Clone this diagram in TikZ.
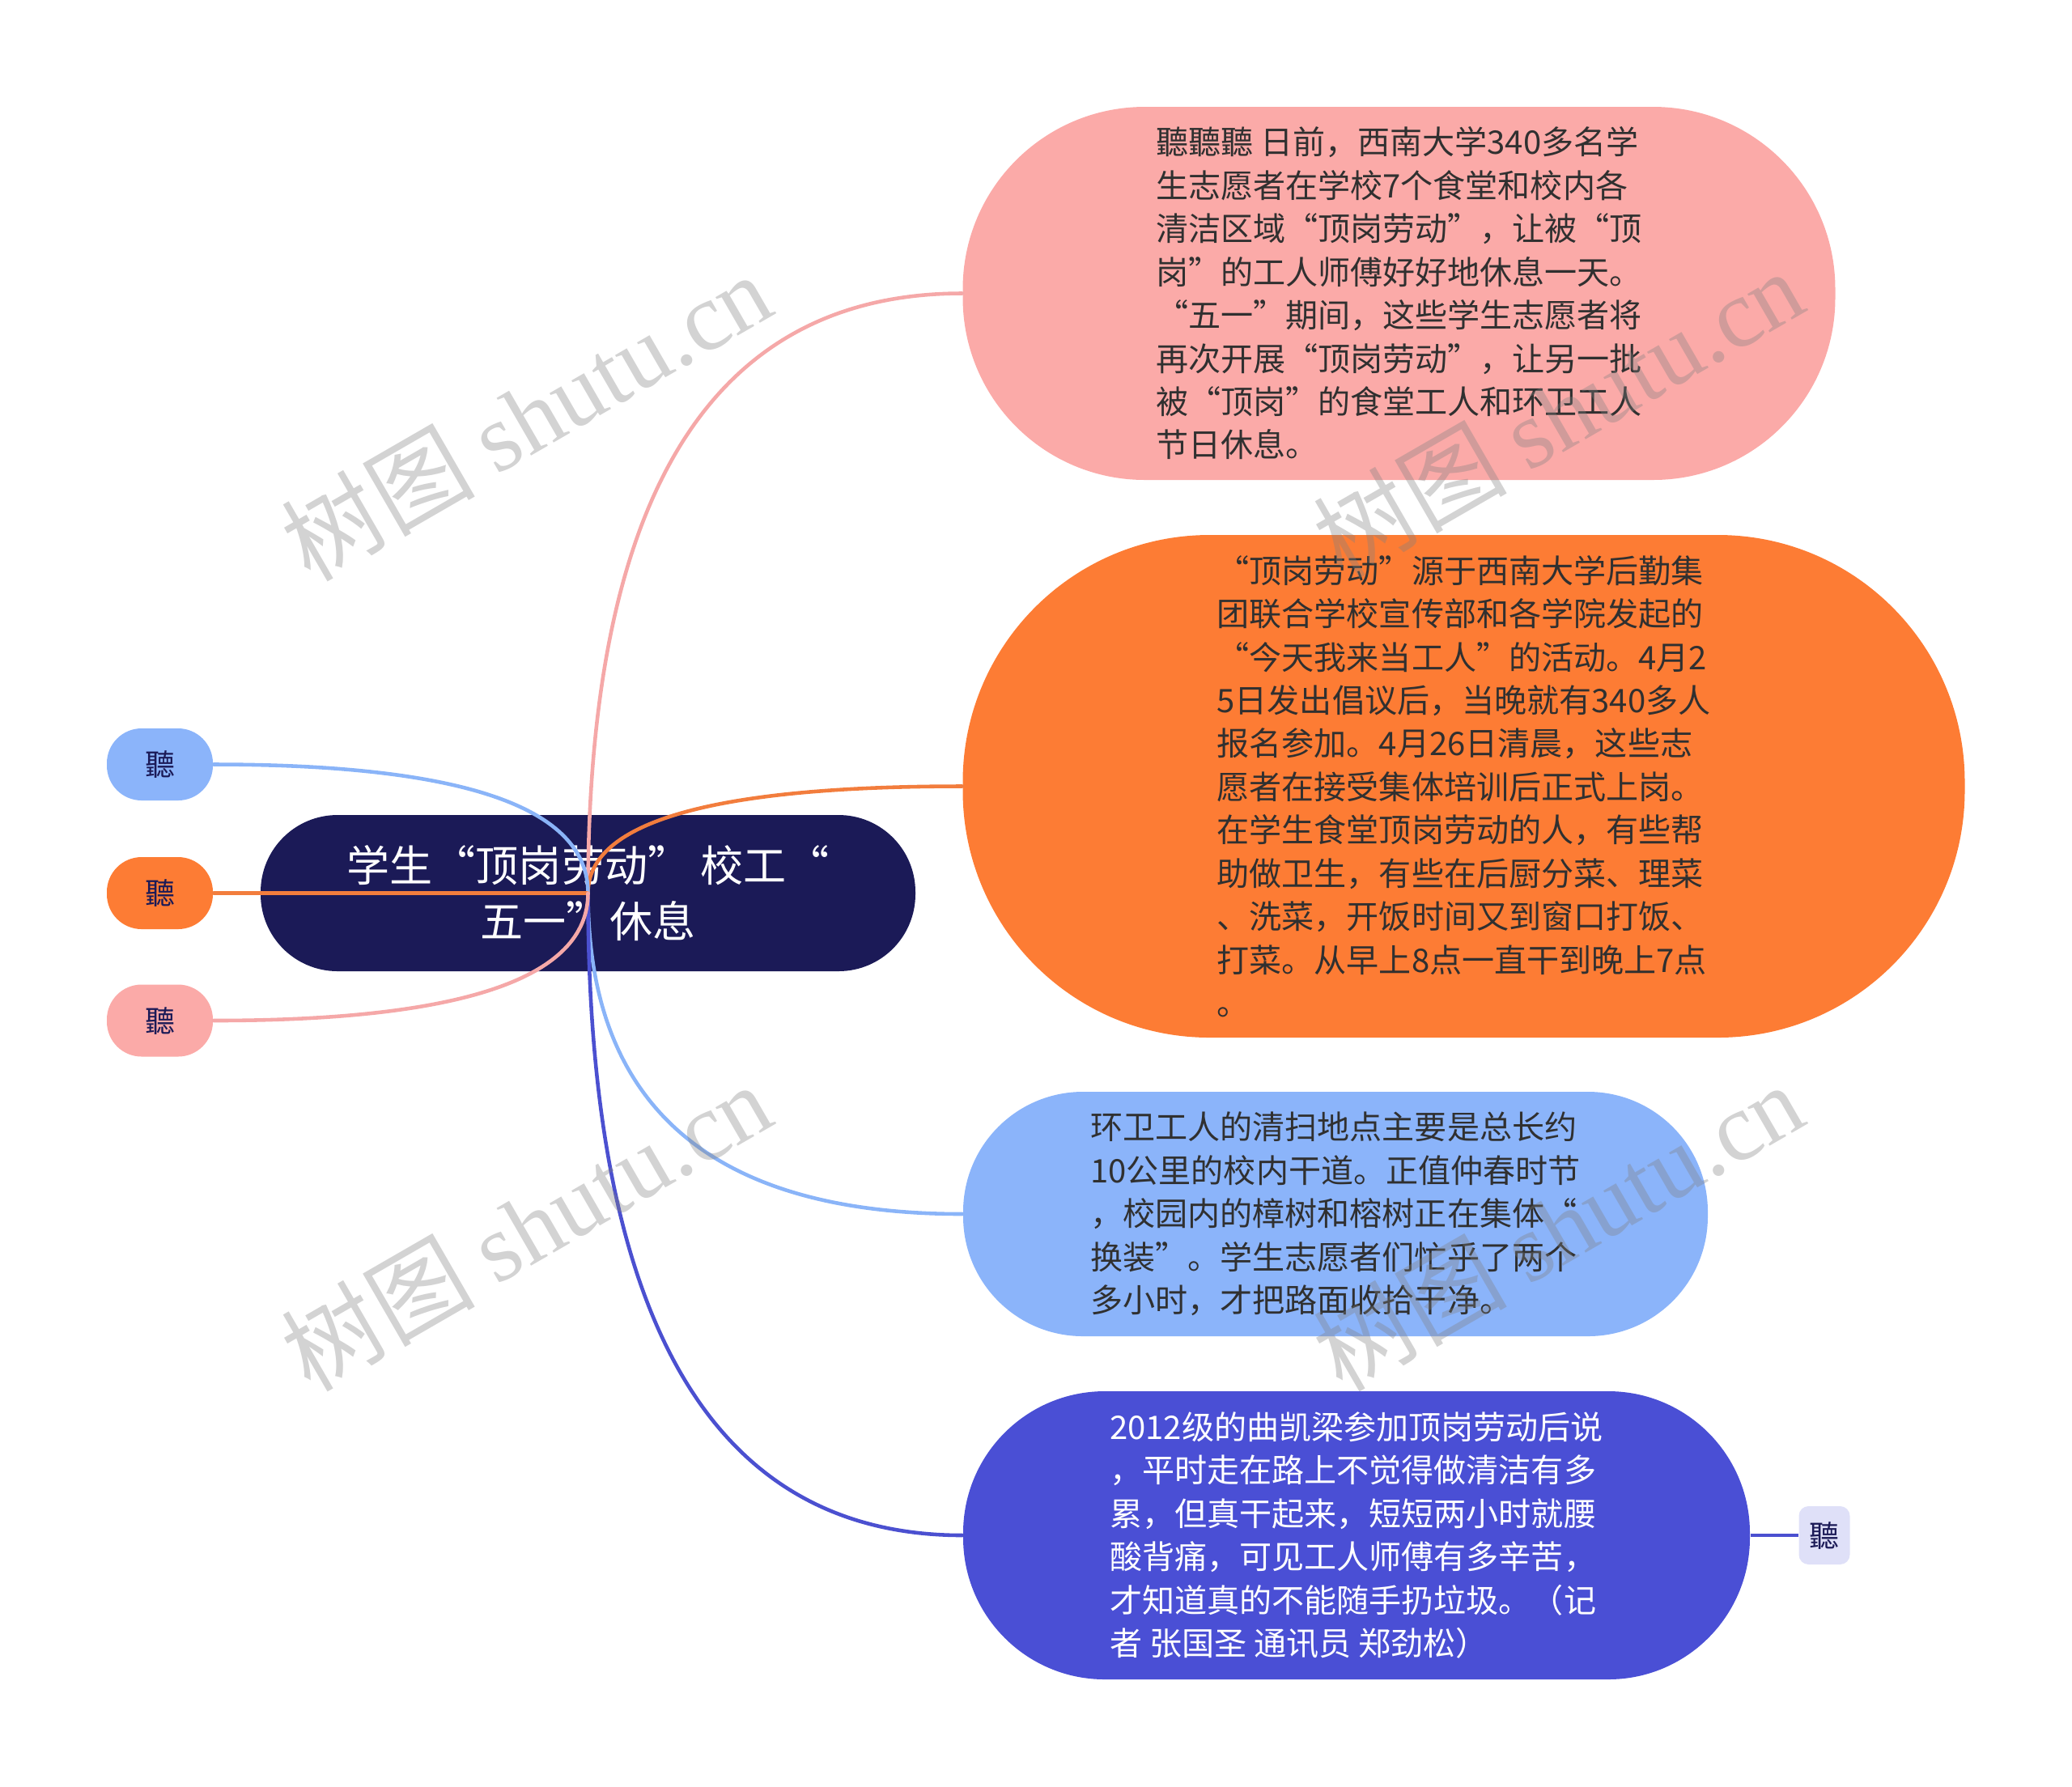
\documentclass[tikz,border=0pt]{standalone}
\usepackage{fontspec}
\setmainfont{Noto Sans CJK SC}
\newfontfamily\wmfont{Liberation Serif}
\usepackage{tikz}
\usetikzlibrary{positioning,calc}

\definecolor{rootc}{HTML}{1B1A57}
\definecolor{pinkc}{HTML}{FBAAA8}
\definecolor{orangec}{HTML}{FD7C34}
\definecolor{bluec}{HTML}{8BB4FA}
\definecolor{indigoc}{HTML}{4A4FD5}
\definecolor{lavc}{HTML}{DFE0F8}
\definecolor{pinkl}{HTML}{F5A8A8}
\definecolor{orangel}{HTML}{F27D3D}
\definecolor{bluel}{HTML}{8AB4F8}
\definecolor{indigol}{HTML}{4B50D0}
\definecolor{txt}{HTML}{303030}

\begin{document}
\begin{tikzpicture}[on grid,
  box/.style={rectangle,align=left,inner sep=0pt,text=txt,font=\fontsize{11.4}{15.2}\selectfont},
  tip/.style={rectangle,inner sep=0pt,text=rootc,font=\fontsize{10.5}{12}\selectfont},
  link/.style={line width=1.3pt,line cap=round,
    to path={.. controls ($(\tikztostart)!2/3!(\tikztostart|-\tikztotarget)$)
      and ($(\tikztotarget)!2/3!(\tikztostart|-\tikztotarget)$) .. (\tikztotarget)}},
  wmark/.style={rotate=30,text=gray,opacity=0.35,font=\fontsize{34}{40}\selectfont}]

  \useasboundingbox (0,0) rectangle (25.6,-22.07);

  \node[box,fill=rootc,text=white,align=center,font=\fontsize{15.1}{19.5}\selectfont,
        minimum width=8.09cm,minimum height=1.93cm,rounded corners=0.95cm]
        (0) at (7.265,-11.035) {学生“顶岗劳动” 校工“\\五一”休息};

  \node[box,fill=pinkc,minimum width=10.78cm,minimum height=4.61cm,rounded corners=2.25cm]
        (1) [above right=7.41cm and 10.02cm of 0]
        {聽聽聽 日前，西南大学340多名学\\生志愿者在学校7个食堂和校内各\\清洁区域“顶岗劳动”，让被“顶\\岗”的工人师傅好好地休息一天。\\“五一”期间，这些学生志愿者将\\再次开展“顶岗劳动”，让另一批\\被“顶岗”的食堂工人和环卫工人\\节日休息。};
  \node[box,fill=orangec,minimum width=12.38cm,minimum height=6.21cm,rounded corners=3.05cm]
        (2) [above right=1.32cm and 10.82cm of 0]
        {“顶岗劳动”源于西南大学后勤集\\团联合学校宣传部和各学院发起的\\“今天我来当工人”的活动。4月2\\5日发出倡议后，当晚就有340多人\\报名参加。4月26日清晨，这些志\\愿者在接受集体培训后正式上岗。\\在学生食堂顶岗劳动的人，有些帮\\助做卫生，有些在后厨分菜、理菜\\、洗菜，开饭时间又到窗口打饭、\\打菜。从早上8点一直干到晚上7点\\。};
  \node[box,fill=bluec,minimum width=9.2cm,minimum height=3.02cm,rounded corners=1.48cm]
        (3) [below right=3.965cm and 9.235cm of 0]
        {环卫工人的清扫地点主要是总长约\\10公里的校内干道。正值仲春时节\\，校园内的樟树和榕树正在集体“\\换装”。学生志愿者们忙乎了两个\\多小时，才把路面收拾干净。};
  \node[box,fill=indigoc,text=white,minimum width=9.72cm,minimum height=3.56cm,rounded corners=1.75cm]
        (4) [below right=7.935cm and 9.495cm of 0]
        {2012级的曲凯梁参加顶岗劳动后说\\，平时走在路上不觉得做清洁有多\\累，但真干起来，短短两小时就腰\\酸背痛，可见工人师傅有多辛苦，\\才知道真的不能随手扔垃圾。（记\\者 张国圣 通讯员 郑劲松）};

  \node[tip,fill=bluec,minimum width=1.31cm,minimum height=0.89cm,rounded corners=0.43cm]
        (5) [above left=1.59cm and 5.29cm of 0] {聽};
  \node[tip,fill=orangec,minimum width=1.31cm,minimum height=0.89cm,rounded corners=0.43cm]
        (6) [left=5.29cm of 0] {聽};
  \node[tip,fill=pinkc,minimum width=1.31cm,minimum height=0.89cm,rounded corners=0.43cm]
        (7) [below left=1.575cm and 5.29cm of 0] {聽};
  \node[tip,fill=lavc,minimum width=0.63cm,minimum height=0.72cm,rounded corners=0.12cm]
        (8) [right=5.78cm of 4] {聽};

  \path (0.center) edge[link,pinkl] (1.west)
                   edge[link,orangel] (2.west)
                   edge[link,bluel] (3.west)
                   edge[link,indigol] (4.west)
                   edge[link,bluel] (5.east)
                   edge[link,orangel] (6.east)
                   edge[link,pinkl] (7.east);
  \draw[indigol,line width=1.3pt] (4) -- (8);

  \foreach \x/\y [count=\i] in {6.5/-5.14,19.25/-5.1,6.5/-15.15,19.25/-15.15}
    \node[wmark] (w\i) at (\x,\y) {树图 {\wmfont shutu.cn}};
\end{tikzpicture}
\end{document}
